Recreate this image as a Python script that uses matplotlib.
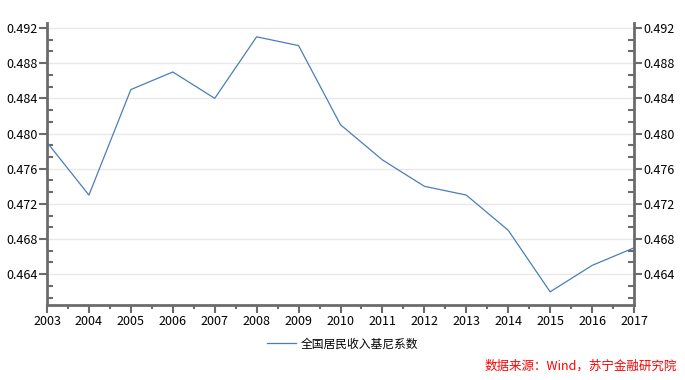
import numpy as np
import matplotlib.pyplot as plt
from matplotlib.ticker import MultipleLocator, FixedLocator

plt.rcParams['font.family'] = ['Noto Sans CJK SC', 'DejaVu Sans']

years = list(range(2003, 2018))
gini = [0.479, 0.473, 0.485, 0.487, 0.484, 0.491, 0.490, 0.481,
        0.477, 0.474, 0.473, 0.469, 0.462, 0.465, 0.467]
yticks = [0.464, 0.468, 0.472, 0.476, 0.480, 0.484, 0.488, 0.492]
series_name = "全国居民收入基尼系数"
source = "数据来源：Wind，苏宁金融研究院"

fig = plt.figure(figsize=(6.85, 3.80), dpi=100)
ax = fig.add_axes([47 / 685, 1 - 305 / 380, (634 - 47) / 685, (305 - 23) / 380])

line_color = "#4a7ebb"
axis_color = "#6b6b6b"

ax.plot(years, gini, color=line_color, lw=0.9, label=series_name)

ax.set_xlim(2003, 2017)
ax.set_ylim(0.4605, 0.49257)

ax.set_xticks(years)
ax.set_xticklabels([str(y) for y in years])
ax.xaxis.set_minor_locator(MultipleLocator(0.5))
ax.set_yticks(yticks)
ax.set_yticklabels(["%.3f" % v for v in yticks])
minor_y = [v for v in np.arange(0.4600, 0.4930, 0.004 / 3)
           if all(abs(v - t) > 1e-5 for t in yticks)]
ax.yaxis.set_minor_locator(FixedLocator(minor_y))

ax.grid(axis="y", which="major", color="#e8e8e8", lw=1)
ax.set_axisbelow(True)

for s in ["top"]:
    ax.spines[s].set_visible(False)
for s in ["left", "right", "bottom"]:
    ax.spines[s].set_color(axis_color)
    ax.spines[s].set_linewidth(2)

ax.tick_params(axis="y", which="major", direction="out", length=6, width=1.5,
               color=axis_color, labelsize=9, left=True, right=True,
               labelleft=True, labelright=True, pad=1)
ax.tick_params(axis="y", which="minor", direction="in", length=4, width=1.5,
               color=axis_color, left=True, right=True)
ax.tick_params(axis="x", which="major", direction="out", length=6, width=1.5,
               color=axis_color, labelsize=9, pad=1)
ax.tick_params(axis="x", which="minor", direction="out", length=3, width=1.5,
               color=axis_color)

fig.legend(loc="center", bbox_to_anchor=(0.5, 1 - 344 / 380), frameon=False,
           fontsize=8.5, handlelength=2.5, handletextpad=0.4)
fig.text(677 / 685, 1 - 366 / 380, source, color="#ff0000", fontsize=9,
         style="italic", ha="right", va="center")

fig.savefig("out.png", dpi=100)
